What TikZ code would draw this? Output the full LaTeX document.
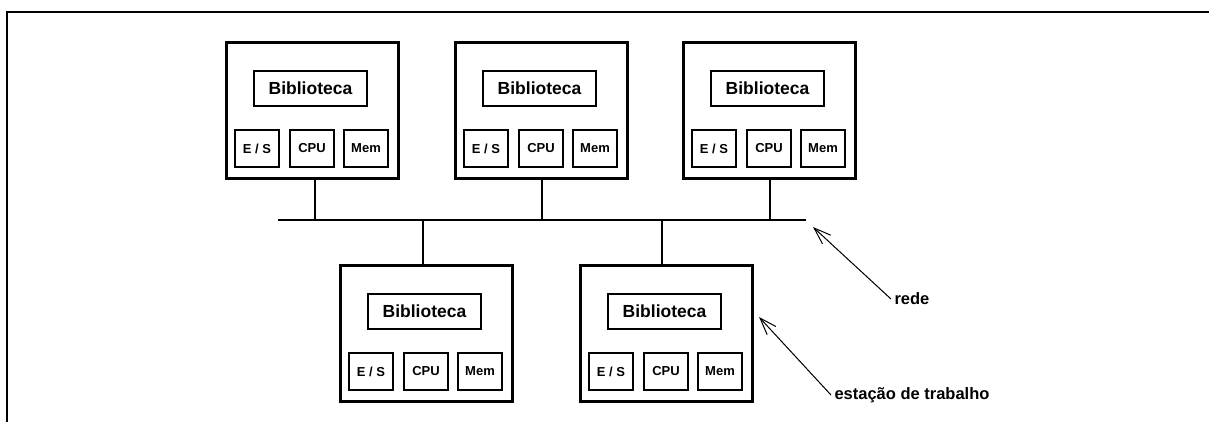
\documentclass[tikz,border=0pt]{standalone}
\usepackage{fontspec}
\setmainfont{Liberation Sans}
\usetikzlibrary{arrows.meta}
\tikzset{
  libfont/.style={font=\fontsize{17.5}{20}\selectfont\bfseries},
  lblfont/.style={font=\fontsize{16.5}{19}\selectfont\bfseries},
  unitfont/.style={font=\fontsize{13}{15}\selectfont\bfseries},
  wsbox/.style={draw, line width=3.2pt, minimum width=172pt, minimum height=136pt, anchor=north west, inner sep=0pt},
  libbox/.style={draw, line width=2pt, minimum width=113pt, minimum height=35pt, anchor=north west, inner sep=0pt, libfont},
  unitbox/.style={draw, line width=2pt, minimum width=44pt, minimum height=37pt, anchor=north west, inner sep=0pt, unitfont},
  link/.style={line width=2pt},
  pointer/.style={line width=1pt, -{Straight Barb[length=17pt,width=12pt]}},
  frameline/.style={line width=2.5pt},
}
\newcommand\station[3]{%
  \node[wsbox] (#1) at (#2+1.5,#3+1.5) {};
  \node[libbox] (#1lib) at (#2+30,#3+31) {Biblioteca};
  \node[unitbox] (#1es) at (#2+11,#3+90) {E / S};
  \node[unitbox] (#1cpu) at (#2+66,#3+90) {CPU};
  \node[unitbox] (#1mem) at (#2+120,#3+90) {Mem};
}
\begin{document}
\begin{tikzpicture}[x=1pt,y=-1pt]
  \useasboundingbox (0,0) rectangle (1209,421);
  \draw[frameline] (7,430) -- (7,12) -- (1215,12);
  \station{sa}{223}{39}
  \station{sb}{452}{39}
  \station{sc}{680}{39}
  \station{sd}{337}{262}
  \station{se}{577}{262}
  \coordinate (busL) at (278,220);
  \coordinate (busR) at (806,220);
  \coordinate (ja) at (315,220);
  \coordinate (jb) at (542,220);
  \coordinate (jc) at (770,220);
  \coordinate (jd) at (423,220);
  \coordinate (je) at (662,220);
  \draw[link] (busL) -- (busR);
  \draw[link] (sa.south -| ja) -- (ja);
  \draw[link] (sb.south -| jb) -- (jb);
  \draw[link] (sc.south -| jc) -- (jc);
  \draw[link] (sd.north -| jd) -- (jd);
  \draw[link] (se.north -| je) -- (je);
  \node[lblfont, anchor=west] (rede) at (891,299) {rede};
  \node[lblfont, anchor=west] (estacao) at (831,395) {estação de trabalho};
  \coordinate (redetip) at (813,227);
  \coordinate (esttip) at (759,317);
  \draw[pointer] (rede.west) -- (redetip);
  \draw[pointer] (estacao.west) -- (esttip);
\end{tikzpicture}
\end{document}
